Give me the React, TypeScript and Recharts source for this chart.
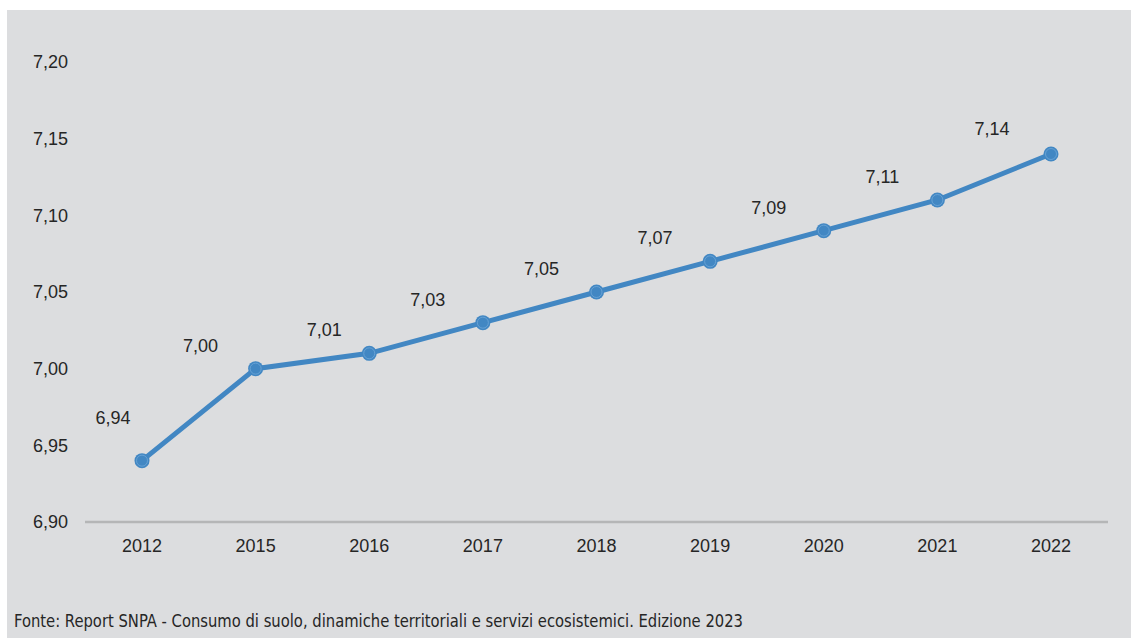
import React from "react";
import { LineChart, Line, XAxis, YAxis, LabelList } from "recharts";

const years = ["2012", "2015", "2016", "2017", "2018", "2019", "2020", "2021", "2022"];
const values = [6.94, 7.0, 7.01, 7.03, 7.05, 7.07, 7.09, 7.11, 7.14];
const yTicks = [6.9, 6.95, 7.0, 7.05, 7.1, 7.15, 7.2];
const source = "Fonte: Report SNPA - Consumo di suolo, dinamiche territoriali e servizi ecosistemici. Edizione 2023";

const data = years.map((y, i) => ({ year: y, value: values[i] }));

const LINE = "#4287c3";
const BG = "#dcdddf";
const TXT = "#262626";
const FONT = "'Liberation Sans', Arial, sans-serif";

const fmt = (v: number) => v.toFixed(2).replace(".", ",");

const Dot = (props: any) => {
  const { cx, cy, index } = props;
  return (
    <g key={`d${index}`}>
      <circle cx={cx} cy={cy} r={7.5} fill={LINE} />
      <circle cx={cx} cy={cy} r={5.5} fill="none" stroke="#6ea7d8" strokeWidth={0.8} />
    </g>
  );
};

const Label = (props: any) => {
  const { x, y, value, index } = props;
  let dx = -55;
  let dy = -23;
  if (index === 0) {
    dx = -29;
    dy = -43;
  } else if (index === 2) {
    dx = -45;
  } else if (index === 8) {
    dx = -59;
    dy = -25;
  }
  return (
    <text
      x={x + dx}
      y={y + dy + 6}
      textAnchor="middle"
      fontSize={18}
      fontFamily={FONT}
      fill={TXT}
    >
      {fmt(value)}
    </text>
  );
};

export default function App() {
  return (
    <div
      style={{
        position: "absolute",
        left: 7,
        top: 10,
        width: 1124,
        height: 628,
        background: BG,
      }}
    >
      <LineChart
        width={1124}
        height={580}
        data={data}
        margin={{ top: 52, right: 23, bottom: 38, left: 0 }}
      >
        <XAxis
          dataKey="year"
          axisLine={{ stroke: "#b5b6b7", strokeWidth: 2.5 }}
          tickLine={false}
          tickSize={0}
          tickMargin={17}
          height={30}
          padding={{ left: 57, right: 57 }}
          interval={0}
          tick={{ fontSize: 18, fontFamily: FONT, fill: TXT }}
        />
        <YAxis
          domain={[6.9, 7.2]}
          ticks={yTicks}
          tickFormatter={fmt}
          axisLine={false}
          tickLine={false}
          tickSize={0}
          tickMargin={17}
          width={78}
          interval={0}
          tick={{ fontSize: 18, fontFamily: FONT, fill: TXT }}
        />
        <Line
          type="linear"
          dataKey="value"
          stroke={LINE}
          strokeWidth={5}
          dot={<Dot />}
          activeDot={false}
          isAnimationActive={false}
        >
          <LabelList dataKey="value" content={<Label />} />
        </Line>
      </LineChart>
      <svg
        width={1124}
        height={48}
        style={{ position: "absolute", left: 0, top: 580 }}
      >
        <text
          x={7}
          y={37}
          fontSize={18}
          fontFamily="'Liberation Sans Narrow', 'DejaVu Sans Condensed', sans-serif"
          fill={TXT}
          textLength={729}
          lengthAdjust="spacingAndGlyphs"
        >
          {source}
        </text>
      </svg>
    </div>
  );
}
